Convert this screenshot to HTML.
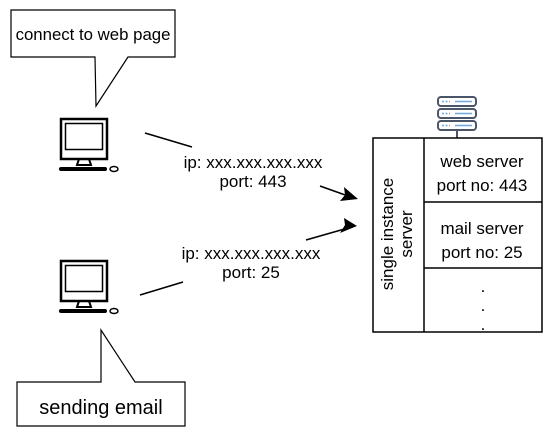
<!DOCTYPE html>
<html><head><style>
body{margin:0;background:#fff;}
svg text{font-family:"Liberation Sans",Helvetica,sans-serif;fill:#000;}
</style></head><body>
<svg width="552" height="436" viewBox="0 0 552 436" xmlns="http://www.w3.org/2000/svg">
<defs>
<g id="pc">
 <rect x="0" y="0" width="46" height="40" fill="none" stroke="#000" stroke-width="2.5"/>
 <rect x="4.5" y="4.5" width="37" height="26" fill="none" stroke="#000" stroke-width="1.5"/>
 <path d="M18 40 L16 46 L30 46 L28 40 Z" fill="none" stroke="#000" stroke-width="2"/>
 <rect x="-2" y="48" width="48" height="4" rx="2" fill="#000"/>
 <ellipse cx="53" cy="50" rx="4" ry="2.5" fill="none" stroke="#000" stroke-width="1.5"/>
</g>
</defs>
<path d="M11 10 H175 V57 H128 L96 106 L95 57 H11 Z" fill="#fff" stroke="#000" stroke-width="1.2"/>
<text x="93" y="40" font-size="16.8" text-anchor="middle">connect to web page</text>
<use href="#pc" x="61" y="119"/>
<path d="M17 382 H101 V330 L135 382 H185 V426 H17 Z" fill="#fff" stroke="#000" stroke-width="1.2"/>
<text x="101" y="414" font-size="20" text-anchor="middle">sending email</text>
<use href="#pc" x="61" y="261"/>
<g stroke="#000" stroke-width="1.5" fill="none">
<line x1="145" y1="133" x2="192" y2="147"/>
<line x1="320" y1="186" x2="348" y2="196"/>
<line x1="140" y1="295" x2="183" y2="282"/>
<line x1="306" y1="240" x2="348" y2="228"/>
</g>
<path d="M358 199 L340 201 L345 195 L344 187 Z" fill="#000"/>
<path d="M357 226 L344 218 L345 225 L340 233 Z" fill="#000"/>
<text x="253" y="168" font-size="17" text-anchor="middle">ip: xxx.xxx.xxx.xxx</text>
<text x="253" y="187" font-size="17" text-anchor="middle">port: 443</text>
<text x="251" y="259" font-size="17" text-anchor="middle">ip: xxx.xxx.xxx.xxx</text>
<text x="251" y="278" font-size="17" text-anchor="middle">port: 25</text>
<g stroke="#4a5568" stroke-width="2" fill="#fff">
<rect x="438" y="97" width="38" height="9" rx="3"/>
<rect x="438" y="109" width="38" height="9" rx="3"/>
<rect x="438" y="121" width="38" height="9" rx="3"/>
</g>
<g stroke="#6fa8dc" stroke-width="1.5">
<line x1="442" y1="101.5" x2="450" y2="101.5" stroke-dasharray="2 1.5"/>
<line x1="455" y1="101.5" x2="472" y2="101.5"/>
<line x1="442" y1="113.5" x2="450" y2="113.5" stroke-dasharray="2 1.5"/>
<line x1="455" y1="113.5" x2="472" y2="113.5"/>
<line x1="442" y1="125.5" x2="450" y2="125.5" stroke-dasharray="2 1.5"/>
<line x1="455" y1="125.5" x2="472" y2="125.5"/>
</g>
<line x1="457" y1="130" x2="457" y2="138" stroke="#4a5568" stroke-width="2"/>
<g stroke="#000" stroke-width="1.5" fill="none">
<rect x="373" y="138" width="169" height="194"/>
<line x1="424" y1="138" x2="424" y2="332"/>
<line x1="424" y1="202" x2="542" y2="202"/>
<line x1="424" y1="268" x2="542" y2="268"/>
</g>
<text x="482" y="167" font-size="17" text-anchor="middle">web server</text>
<text x="482" y="191" font-size="17" text-anchor="middle">port no: 443</text>
<text x="482" y="234" font-size="17" text-anchor="middle">mail server</text>
<text x="482" y="258" font-size="17" text-anchor="middle">port no: 25</text>
<text x="483" y="292" font-size="17" text-anchor="middle">.</text>
<text x="483" y="311" font-size="17" text-anchor="middle">.</text>
<text x="483" y="330" font-size="17" text-anchor="middle">.</text>
<g transform="translate(398 234) rotate(-90)">
<text x="0" y="-5" font-size="17" text-anchor="middle">single instance</text>
<text x="0" y="14" font-size="17" text-anchor="middle">server</text>
</g>
</svg>
</body></html>
